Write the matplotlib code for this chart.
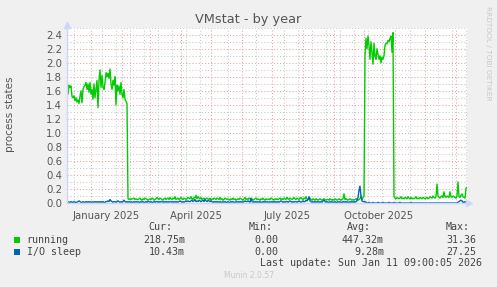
import datetime as dt
import numpy as np
import matplotlib
matplotlib.use("Agg")
import matplotlib.pyplot as plt

# ---------------- data (daily values, Dec 2024 -> Jan 2026) ----------------
START = dt.datetime(2024, 12, 7, 9, 0)
END = dt.datetime(2026, 1, 11, 9, 0)

running_high1 = [
    1.73, 1.55, 1.68, 1.65, 1.67, 1.52, 1.50, 1.53, 1.46, 1.50,
    1.44, 1.47, 1.42, 1.52, 1.60, 1.43, 1.62, 1.66, 1.68, 1.72,
    1.62, 1.70, 1.58, 1.72, 1.55, 1.62, 1.48, 1.70, 1.50, 1.62,
    1.75, 1.36, 1.75, 1.90, 1.65, 1.82, 1.65, 1.62, 1.72, 1.86,
    1.80, 1.85, 1.78, 1.91, 1.70, 1.62, 1.75, 1.68, 1.80, 1.40,
    1.68, 1.60, 1.67, 1.55, 1.72, 1.55, 1.50, 1.62, 1.48, 1.45,
    1.42]
running_low1 = [
    .06, .05, .06, .05, .06, .06, .07, .05, .06, .05,
    .05, .06, .07, .05, .04, .06, .05, .07, .06, .05,
    .04, .05, .06, .05, .07, .06, .04, .05, .06, .08,
    .06, .05, .07, .06, .05, .04, .06, .07, .05, .06,
    .07, .05, .08, .06, .05, .07, .06, .09, .05, .06,
    .07, .05, .06, .08, .06, .05, .07, .06, .05, .06,
    .08, .07, .06, .09, .06, .05, .08, .07, .11, .06,
    .09, .07, .06, .08, .05, .06, .07, .05, .06, .07,
    .06, .05, .07, .04, .06, .05, .07, .06, .05, .07,
    .06, .05, .08, .05, .06, .04, .05, .07, .06, .05,
    .06, .05, .04, .06, .05, .07, .05, .06, .04, .05,
    .06, .05, .07, .06, .05, .04, .06, .08, .05, .06,
    .05, .07, .06, .05, .06, .04, .05, .06, .07, .05,
    .06, .05, .04, .06, .05, .07, .05, .04, .06, .05,
    .05, .06, .05, .07, .06, .05, .04, .06, .05, .06,
    .05, .06, .07, .05, .06, .05, .07, .06, .05, .08,
    .06, .05, .07, .06, .05, .06, .08, .06, .05, .07,
    .06, .05, .07, .08, .06, .05, .07, .06, .09, .06,
    .05, .06, .07, .05, .04, .06, .05, .04, .06, .05,
    .04, .05, .06, .05, .04, .05, .06, .05, .04, .05,
    .05, .04, .06, .05, .04, .05, .04, .06, .05, .04,
    .05, .06, .05, .04, .05, .06, .13, .05, .06, .05,
    .04, .05, .06, .05, .04, .05, .04, .05, .06, .05,
    .04, .05, .06, .10, .05, .08, .10]
running_high2 = [
    2.10, 2.35, 2.20, 2.38, 2.25, 2.05, 2.30, 2.15, 1.98, 2.28,
    2.10, 2.05, 2.20, 2.12, 2.05, 2.10, 2.00, 2.08, 2.05, 2.10,
    2.25, 2.28, 2.27, 2.32, 2.30, 2.35, 2.38, 2.15, 2.43]
running_low2 = [
    .09, .07, .06, .08, .07, .06, .07, .09, .06, .07,
    .06, .08, .07, .06, .09, .07, .06, .08, .06, .07,
    .06, .07, .09, .06, .07, .06, .08, .07, .06, .08,
    .07, .06, .07, .08, .06, .07, .09, .08, .07, .10,
    .08, .07, .09, .27, .10, .08, .07, .09, .10, .08,
    .16, .09, .08, .10, .09, .08, .16, .09, .08, .10,
    .09, .08, .07, .10, .30, .09, .08, .11, .13, .09,
    .08, .07, .21, .22]
running = running_high1 + running_low1 + running_high2 + running_low2

io_sleep = [
    .01, .02, .01, .01, .02, .01, .01, .02, .01, .01,
    .01, .02, .03, .02, .01, .01, .02, .01, .01, .02,
    .01, .02, .01, .02, .01, .01, .02, .01, .02, .01,
    .02, .01, .02, .01, .02, .01, .02, .01, .01, .02,
    .02, .03, .02, .05, .03, .02, .01, .02, .02, .01,
    .02, .03, .02, .01, .02, .01, .02, .04, .02, .01,
    .02, .01, .02, .01, .02, .01, .01, .02, .01, .02,
    .01, .02, .01, .01, .02, .01, .02, .01, .01, .02,
    .01, .02, .02, .01, .02, .01, .01, .02, .01, .02,
    .02, .01, .02, .01, .02, .02, .01, .02, .01, .02,
    .01, .02, .01, .02, .02, .01, .02, .01, .02, .01,
    .02, .01, .02, .03, .02, .01, .02, .01, .02, .03,
    .02, .03, .02, .02, .03, .04, .02, .03, .05, .02,
    .03, .02, .04, .03, .02, .03, .04, .02, .05, .03,
    .02, .04, .03, .02, .03, .02, .01, .02, .01, .02,
    .01, .02, .01, .02, .01, .01, .02, .01, .02, .01,
    .01, .02, .01, .01, .02, .01, .02, .01, .01, .02,
    .01, .02, .01, .02, .01, .02, .01, .02, .03, .02,
    .02, .03, .02, .01, .07, .02, .01, .02, .01, .02,
    .01, .02, .01, .02, .01, .01, .02, .01, .02, .01,
    .02, .01, .01, .02, .01, .02, .01, .02, .01, .02,
    .01, .02, .01, .02, .03, .02, .01, .02, .01, .02,
    .02, .01, .02, .03, .02, .01, .02, .01, .02, .02,
    .01, .02, .03, .02, .01, .02, .03, .02, .02, .04,
    .03, .05, .09, .03, .02, .01, .02, .01, .02, .01,
    .02, .01, .02, .01, .02, .01, .03, .04, .02, .01,
    .02, .01, .01, .02, .01, .02, .01, .01, .02, .01,
    .01, .02, .01, .02, .01, .01, .02, .01, .02, .01,
    .02, .01, .01, .02, .01, .02, .01, .02, .01, .02,
    .03, .08, .18, .24, .10, .03, .02, .02, .02, .01,
    .00, .00, .01, .00, .00, .00, .01, .00, .00, .00,
    .00, .01, .00, .00, .00, .00, .01, .00, .00, .00,
    .00, .00, .01, .00, .00, .00, .00, .01, .00, .00,
    .00, .00, .00, .01, .00, .00, .00, .00, .00, .00,
    .00, .00, .00, .00, .01, .00, .00, .00, .00, .00,
    .00, .00, .00, .00, .00, .00, .00, .00, .00, .00,
    .00, .00, .00, .00, .00, .00, .00, .00, .00, .00,
    .00, .00, .00, .00, .00, .00, .00, .00, .00, .00,
    .00, .00, .00, .00, .00, .00, .00, .00, .00, .00,
    .00, .01, .02, .03, .04, .03, .01, .01, .02, .01,
    .01]

series_names = ["running", "I/O sleep"]
series_colors = ["#00CC00", "#0066B3"]
stat_cur = ["218.75m", "10.43m"]
stat_min = ["0.00", "0.00"]
stat_avg = ["447.32m", "9.28m"]
stat_max = ["31.36", "27.25"]
month_labels = ["January 2025", "April 2025", "July 2025", "October 2025"]
label_months = [(2025, 1), (2025, 4), (2025, 7), (2025, 10)]
title = "VMstat - by year"
ylabel = "process states"
last_update = "Last update: Sun Jan 11 09:00:05 2026"

# ---------------- figure ----------------
W, H = 497, 287
DPI = 100
fig = plt.figure(figsize=(W / DPI, H / DPI), dpi=DPI, facecolor="#F0F0F0")

PL, PR, PB, PT = 66.5, 466.5, 203.0, 27.75
ax = fig.add_axes([PL / W, 1 - PB / H, (PR - PL) / W, (PB - PT) / H])
ax.set_facecolor("white")

def day(t):
    return (t - START).total_seconds() / 86400.0

total = day(END)
ax.set_xlim(0, total)
ax.set_ylim(0, 2.5)

# grid
minor_col = "#C9C9C9"
major_col = "#E9A0A0"
month_starts = []
y, m = 2024, 12
while True:
    t = dt.datetime(y, m, 1)
    if t > END:
        break
    if t >= START:
        month_starts.append(day(t))
    m += 1
    if m > 12:
        m = 1
        y += 1
t = dt.datetime(2024, 12, 15)
while t < END:
    d = day(t)
    if d > 0 and all(abs(d - ms) > 3 for ms in month_starts):
        ax.axvline(d, color=minor_col, lw=0.75, ls=(0, (1, 2)), zorder=1)
    t += dt.timedelta(days=14)
for ms in month_starts:
    ax.axvline(ms, color=major_col, lw=0.75, ls=(0, (1, 2)), zorder=1.1)
for k in range(1, 26):
    v = k * 0.1
    col = major_col if k % 2 == 0 else minor_col
    ax.axhline(v, color=col, lw=0.75, ls=(0, (1, 2)), zorder=1)

# data
xs = np.arange(len(running)) + 0.5
ax.plot(xs, running, color=series_colors[0], lw=1.0, zorder=3)
xs2 = np.arange(len(io_sleep)) + 0.5
ax.plot(xs2, io_sleep, color=series_colors[1], lw=1.0, zorder=3.1)

# axes styling
axis_col = "#CFD6F8"
for s in ["top", "right"]:
    ax.spines[s].set_visible(False)
for s in ["left", "bottom"]:
    ax.spines[s].set_color(axis_col)
    ax.spines[s].set_linewidth(1.0)
    ax.spines[s].set_zorder(4)
ax.set_yticks([k * 0.2 for k in range(13)])
ax.set_yticklabels([f"{k * 0.2:.1f}" for k in range(13)])
ax.tick_params(axis="y", length=2, color=axis_col, labelsize=7.3,
               labelcolor="#555555", pad=2, direction="inout")
ax.set_xticks(month_starts)
ax.set_xticklabels([])
ax.tick_params(axis="x", length=2, color=axis_col, direction="inout")
for lab, (yy, mm) in zip(month_labels, label_months):
    d = day(dt.datetime(yy, mm, 1)) + 15
    ax.text(d, -0.045, lab, transform=ax.get_xaxis_transform(),
            ha="center", va="top", fontsize=7.3, color="#555555")

# arrows on axes
ext_y = 3.0 / (PB - PT)
ext_x = 2.5 / (PR - PL)
ax.plot([0, 0], [1.0, 1.0 + ext_y], color=axis_col, lw=1.0,
        clip_on=False, transform=ax.transAxes, zorder=5)
ax.plot([0], [1.0 + ext_y], marker="^", ms=4.5, color=axis_col, clip_on=False,
        transform=ax.transAxes, zorder=5)
ax.plot([1.0, 1.0 + ext_x], [0, 0], color=axis_col, lw=1.0,
        clip_on=False, transform=ax.transAxes, zorder=5)
ax.plot([1.0 + ext_x], [0], marker=">", ms=4.5, color=axis_col,
        clip_on=False, transform=ax.transAxes, zorder=5)

# texts in pixel coordinates (origin top-left)
def px(x, y):
    return x / W, 1 - y / H

fig.text(*px(248.5, 19.0), title, ha="center", va="center",
         fontsize=9.3, color="#555555")
fig.text(*px(10.5, 114), ylabel, ha="center", va="center", rotation=90,
         fontsize=7.5, color="#555555")
fig.text(*px(488, 53), "RRDTOOL / TOBI OETIKER", ha="center", va="center",
         rotation=270, fontsize=5.3, color="#C8C8C8")

mono = "DejaVu Sans Mono"
fs = 7.2
tc = "#444444"
hy = 227.5
for txt, xr in zip(["Cur:", "Min:", "Avg:", "Max:"], [172.3, 272.3, 371.0, 470.0]):
    fig.text(*px(xr, hy), txt, ha="right", va="center", family=mono,
             fontsize=fs, color=tc)
rows_y = [239.7, 251.7]
for i in range(2):
    ry = rows_y[i]
    fig.patches.append(plt.Rectangle(px(14.3, ry + 2.8), 5.7 / W, 5.7 / H,
                                     transform=fig.transFigure,
                                     facecolor=series_colors[i],
                                     edgecolor="none"))
    fig.text(*px(26.7, ry), series_names[i], ha="left", va="center",
             family=mono, fontsize=fs, color=tc)
    for val, xr in zip([stat_cur[i], stat_min[i], stat_avg[i], stat_max[i]],
                       [185.0, 278.3, 384.0, 476.7]):
        fig.text(*px(xr, ry), val, ha="right", va="center", family=mono,
                 fontsize=fs, color=tc)
fig.text(*px(482.3, 263.5), last_update, ha="right", va="center",
         family=mono, fontsize=fs, color=tc)
fig.text(*px(248.5, 276), "Munin 2.0.57", ha="center", va="center",
         fontsize=5.5, color="#C8C8C8")

fig.savefig("out.png", dpi=DPI, facecolor=fig.get_facecolor())
